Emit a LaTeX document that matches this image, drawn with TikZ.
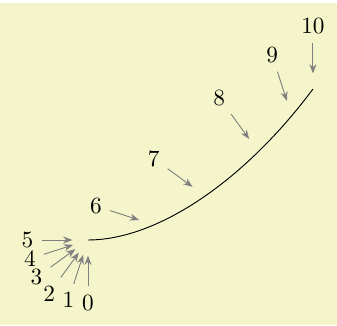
\documentclass[tikz,border=0pt]{standalone}
\usetikzlibrary{calc,arrows.meta}
\definecolor{graphicbackground}{rgb}{0.96,0.96,0.8}
\begin{document}
\begin{tikzpicture}[
  spot/.style={circle,inner sep=0pt,minimum size=13pt},
  arr/.style={-{Stealth[length=4pt,width=3pt]},gray}
]

\useasboundingbox (0,0) rectangle (5.086,4.905);
\fill[graphicbackground] (0,0) rectangle (5.086,4.86);

\coordinate (S) at (1.328,1.283);
\coordinate (C1) at (2.370,1.283);
\coordinate (C2) at (3.681,2.165);
\coordinate (E) at (4.723,3.561);

\draw (S) .. controls (C1) and (C2) .. (E);

% the first half of the path sits on its start point
\foreach \i in {0,...,5}
  \node[spot] (p\i) at (S) {};
\foreach \i/\t in {6/0.3,7/0.52,8/0.75,9/0.9,10/1}
  \path (S) .. controls (C1) and (C2) .. (E) node[spot,pos=\t] (p\i) {};

\foreach \i [evaluate=\i as \a using 270-18*\i,
             evaluate={\i as \b using int(mod(450-18*\i,360))}] in {0,...,10} {
  \node[anchor=\b] (l\i) at ($(p\i)+(\a:0.7)$) {\i};
  \draw[arr] (l\i) -- (p\i);
}

\end{tikzpicture}
\end{document}
